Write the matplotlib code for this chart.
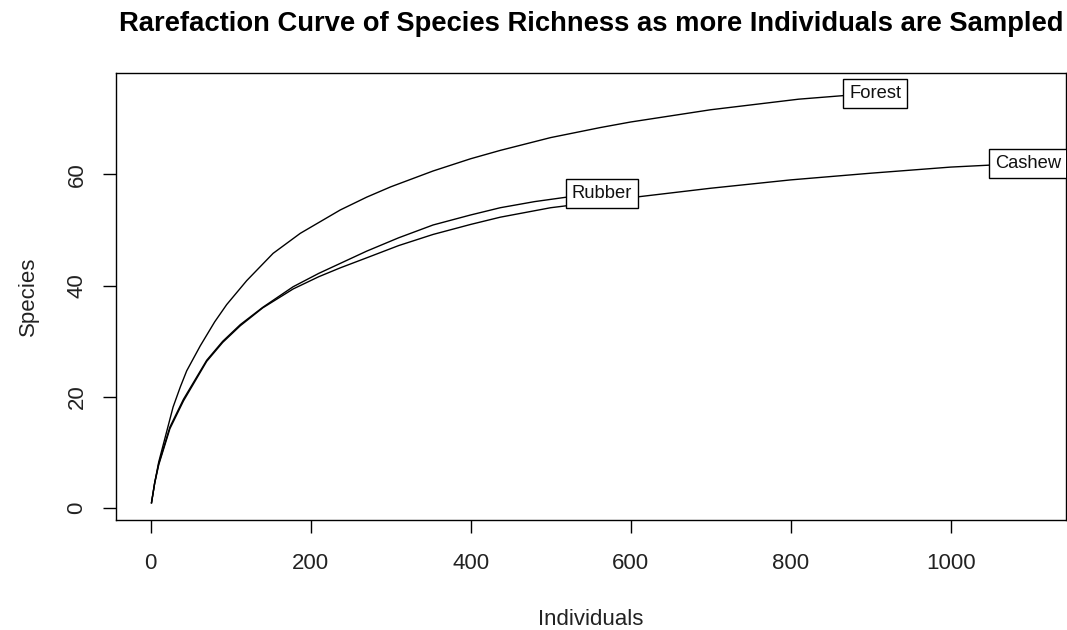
import matplotlib
matplotlib.use("Agg")
import matplotlib.pyplot as plt

# Rarefaction curves (individuals vs. expected species)
forest_n = [1, 5, 10, 20, 28, 37, 45, 62, 80, 95, 120, 153, 187, 237, 270, 300,
            353, 400, 437, 500, 562, 600, 700, 810, 906]
forest_s = [1, 4.6, 8.3, 13.8, 18.2, 21.8, 24.7, 29.2, 33.5, 36.6, 40.9, 45.8, 49.4,
            53.6, 55.9, 57.75, 60.6, 62.8, 64.3, 66.6, 68.4, 69.4, 71.6, 73.5, 74.6]

rubber_n = [1, 5, 10, 24, 41, 70, 90, 112, 140, 178, 210, 237, 270, 310, 353,
            400, 437, 480, 520, 564]
rubber_s = [1, 4.6, 8.0, 14.6, 19.6, 26.6, 30.0, 33.0, 36.1, 39.8, 42.2, 44.0, 46.2,
            48.6, 50.9, 52.7, 54.0, 55.1, 55.9, 56.5]

cashew_n = [1, 5, 10, 24, 41, 70, 90, 112, 140, 178, 210, 237, 270, 310, 353,
            400, 437, 500, 562, 600, 700, 800, 900, 1000, 1097]
cashew_s = [1, 4.5, 7.8, 14.3, 19.3, 26.4, 29.8, 32.8, 36.0, 39.4, 41.6, 43.2, 45.0,
            47.2, 49.2, 51.0, 52.3, 54.0, 55.1, 55.8, 57.5, 59.0, 60.2, 61.3, 62.0]

series = [("Forest", forest_n, forest_s),
          ("Rubber", rubber_n, rubber_s),
          ("Cashew", cashew_n, cashew_s)]

x_ticks = [0, 200, 400, 600, 800, 1000]
y_ticks = [0, 20, 40, 60]

plt.rcParams['font.family'] = ['Liberation Sans', 'DejaVu Sans']

fig = plt.figure(figsize=(10.67, 6.3), dpi=100)
ax = fig.add_axes([0.1087, 0.1746, 0.890, 0.7095])

for name, n, s in series:
    ax.plot(n, s, color='black', lw=1.0, solid_joinstyle='round')
    # label box at the end of each curve, clipped by the plot frame
    ax.text(n[-1], s[-1], name, ha='center', va='center', fontsize=13.2,
            color='#111111', clip_on=True,
            bbox=dict(boxstyle='square,pad=0.33', fc='white', ec='black', lw=1.0))

ax.set_xlim(-43.4, 1143.75)
ax.set_ylim(-2.1, 78.2)
ax.set_xticks(x_ticks)
ax.set_yticks(y_ticks)
ax.set_yticklabels([str(v) for v in y_ticks], rotation=90, va='center')
ax.tick_params(axis='both', direction='out', length=9.5, width=1.0,
               labelsize=16, colors='black', labelcolor='#222222')
ax.tick_params(axis='x', pad=14)
ax.tick_params(axis='y', pad=11)

for sp in ax.spines.values():
    sp.set_linewidth(1.0)

ax.set_xlabel('Individuals', fontsize=16, color='#222222', labelpad=25.5)
ax.set_ylabel('Species', fontsize=16, color='#222222', labelpad=20)
ax.set_title('Rarefaction Curve of Species Richness as more Individuals are Sampled',
             fontsize=19.7, fontweight='bold', pad=30)

fig.savefig('out.png', dpi=100)
